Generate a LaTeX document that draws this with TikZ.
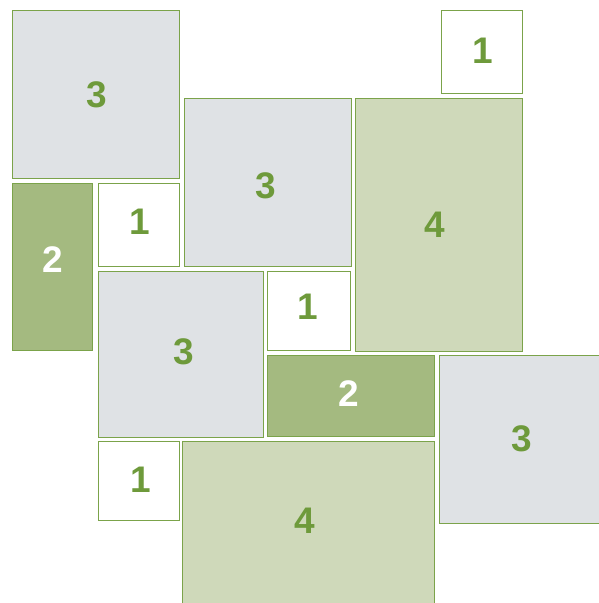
\documentclass[tikz,border=0pt]{standalone}
\usepackage{fontspec}
\setmainfont{Liberation Sans}
\definecolor{edge}{HTML}{7BA34A}
\definecolor{grayfill}{HTML}{DFE2E5}
\definecolor{lightgreen}{HTML}{CFD9BA}
\definecolor{darkgreen}{HTML}{A4BA80}
\definecolor{txtgreen}{HTML}{6E9A3B}
\tikzset{
  tile/.style={draw=edge, line width=1pt, inner sep=0pt, outer sep=0pt, rectangle},
  graytile/.style={tile, fill=grayfill},
  whitetile/.style={tile, fill=white},
  lighttile/.style={tile, fill=lightgreen},
  darktile/.style={tile, fill=darkgreen},
  num/.style={inner sep=0pt, font=\fontsize{37}{37}\selectfont\bfseries, text=txtgreen},
  numw/.style={num, text=white},
}
\begin{document}
\begin{tikzpicture}[x=1pt,y=-1pt]
\useasboundingbox (0,0) rectangle (599,603);
\fill[white] (0,0) rectangle (599,603);
\begin{scope}
\clip (0,0) rectangle (599,603);
\node[graytile, minimum width=167pt, minimum height=168pt] (a) at (95.5,94) {};
\node[whitetile, minimum width=81pt, minimum height=83.5pt] (b) at (481.5,51.75) {};
\node[graytile, minimum width=167pt, minimum height=168.5pt] (c) at (267.5,182.25) {};
\node[lighttile, minimum width=166.5pt, minimum height=253pt] (d) at (438.75,224.5) {};
\node[darktile, minimum width=80.5pt, minimum height=167pt] (e) at (52.25,266.5) {};
\node[whitetile, minimum width=81pt, minimum height=83.4pt] (f) at (138.5,225) {};
\node[graytile, minimum width=165pt, minimum height=166pt] (g) at (180.5,354) {};
\node[whitetile, minimum width=83pt, minimum height=79.5pt] (h) at (309,311) {};
\node[darktile, minimum width=167pt, minimum height=80.5pt] (i) at (351,396) {};
\node[graytile, minimum width=161.5pt, minimum height=168pt] (j) at (519.75,439.5) {};
\node[whitetile, minimum width=81pt, minimum height=78.5pt] (k) at (138.5,481) {};
\node[lighttile, minimum width=252pt, minimum height=162.8pt] (l) at (308.5,523.1) {};
\end{scope}
\node[num]  (ta) at (96.3,95) {3};
\node[num]  (tb) at (482.3,50.3) {1};
\node[num]  (tc) at (266,186) {3};
\node[num]  (td) at (435,225) {4};
\node[numw] (te) at (52.7,259.3) {2};
\node[num]  (tf) at (140,221.7) {1};
\node[num]  (tg) at (183.3,351.7) {3};
\node[num]  (th) at (307.8,306.7) {1};
\node[numw] (ti) at (348.3,393.3) {2};
\node[num]  (tj) at (522,438.7) {3};
\node[num]  (tk) at (140.3,479.7) {1};
\node[num]  (tl) at (305,520.3) {4};
\end{tikzpicture}
\end{document}
